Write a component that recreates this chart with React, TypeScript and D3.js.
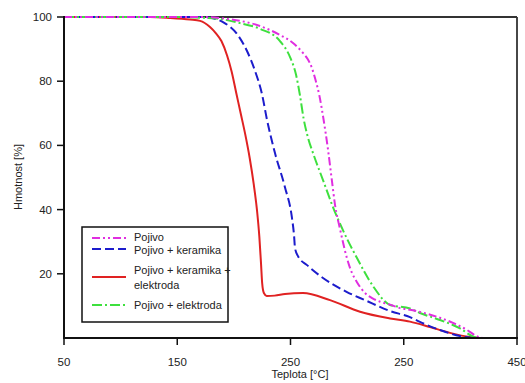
import React from "react";
import * as d3 from "d3";

type Pt = [number, number];

const pojivo: Pt[] = [
  [50, 100], [170, 100], [194, 99.4], [223, 97.2], [240.7, 94.4], [252.2, 91.9], [261, 88.8],
  [265, 87], [268.5, 84.5], [272, 80.5], [275.5, 75.5], [279, 68.5], [283, 59], [286.4, 49.5],
  [289.3, 41.5], [293.7, 34], [299.9, 24.8], [304, 20.5], [308.7, 17.4], [315, 14.3],
  [322.8, 12.3], [330, 11.2], [340.5, 10.1], [346.7, 9.3], [355.5, 8.8], [364.3, 8.1],
  [379.4, 6.6], [393.5, 4.7], [405.9, 2.5], [414.7, 0.5], [421, 0], [450, 0],
];

const keramika: Pt[] = [
  [50, 100], [170, 100], [178.9, 99.8], [190.4, 98.4], [202.8, 94.7], [211.6, 89.4],
  [218.7, 83.2], [224.8, 76], [229.3, 67.9], [236.3, 57.6], [245.1, 47], [251.3, 37.4],
  [253.1, 32.1], [254, 28], [256.6, 25.5], [264.6, 22.7], [278.7, 18.7], [299.9, 14.3],
  [315.8, 11.8], [337.9, 8.4], [355.5, 6.5], [364.3, 5], [382, 2.5], [399.7, 0.6], [417.3, 0], [450, 0],
];

const keramikaElektroda: Pt[] = [
  [50, 100], [126, 100], [143.6, 99.7], [161.3, 99.2], [170.1, 98.8], [178.9, 96.9],
  [184, 95], [189, 92.5], [194, 88], [198, 83], [202, 76.5], [206, 70], [210, 63.5],
  [214, 56], [217.5, 48], [220.5, 39.5], [222.5, 31.5], [224, 23], [225, 17], [226.5, 14],
  [229, 13.1], [236, 13.2], [245.1, 13.7], [261, 14], [284.9, 11.8], [311.4, 8.2],
  [337.9, 6.1], [355.5, 5.1], [373.2, 3.4], [390.8, 1.6], [408.5, 0.3], [417.3, 0], [450, 0],
];

const elektroda: Pt[] = [
  [50, 100], [152.4, 100], [170.1, 99.8], [187.7, 99.4], [205.4, 98.1], [223.1, 96.3],
  [240.7, 92.5], [249.6, 87.5], [254.9, 82], [258.4, 75.5], [261.5, 68.5], [265, 63],
  [270, 57.5], [278.7, 49.2], [287.5, 40.8], [296.3, 33.6], [308.7, 24.9], [322.8, 16.2],
  [337.9, 10.3], [355.5, 9.2], [364.3, 7.8], [382, 5.6], [399.7, 3], [411.1, 0.5], [417.3, 0], [450, 0],
];

const xTickValues = [50, 150, 250, 350, 450];
const xTickLabels = ["50", "150", "250", "250", "450"];
const yTickValues = [20, 40, 60, 80, 100];

const seriesNames = ["Pojivo", "Pojivo + keramika", "Pojivo + keramika + elektroda", "Pojivo + elektroda"];

const series = [
  { name: seriesNames[0], data: pojivo, color: "#e02ee0", dash: "8,3,2,3,2,3", legend: ["Pojivo"] },
  { name: seriesNames[1], data: keramika, color: "#1c1ccc", dash: "9,4", legend: ["Pojivo + keramika"] },
  { name: seriesNames[2], data: keramikaElektroda, color: "#e02222", dash: "", legend: ["Pojivo + keramika +", "elektroda"] },
  { name: seriesNames[3], data: elektroda, color: "#3ee03e", dash: "10,3,2,3", legend: ["Pojivo + elektroda"] },
];

const FONT = "'Liberation Sans', Arial, Helvetica, sans-serif";

export default function App() {
  const W = 525, H = 383;
  const left = 64, right = 517, top = 17, bottom = 338;
  const x = d3.scaleLinear().domain([50, 450]).range([left, right]);
  const y = d3.scaleLinear().domain([0, 100]).range([bottom, top]);
  const line = d3
    .line<Pt>()
    .x((d) => x(d[0]))
    .y((d) => y(d[1]))
    .curve(d3.curveMonotoneX);

  const drawOrder = [2, 1, 3, 0];

  const legendRows = [
    { s: 0, lineY: 238, textY: [241] },
    { s: 1, lineY: 249, textY: [254] },
    { s: 2, lineY: 277, textY: [274, 289] },
    { s: 3, lineY: 305, textY: [309] },
  ];

  return (
    <svg width={W} height={H} style={{ position: "absolute", left: 0, top: 0, background: "#fff" }}>
      <rect x={0} y={0} width={W} height={H} fill="#fff" />
      <line x1={left} y1={top} x2={right} y2={top} stroke="#333" strokeWidth={1.8} />
      <line x1={right} y1={top} x2={right} y2={bottom} stroke="#333" strokeWidth={1.8} />
      {drawOrder.map((i) => (
        <path
          key={series[i].name}
          d={line(series[i].data) || ""}
          fill="none"
          stroke={series[i].color}
          strokeWidth={2}
          strokeDasharray={series[i].dash || undefined}
        />
      ))}
      <line x1={left} y1={top - 1} x2={left} y2={bottom + 1} stroke="#111" strokeWidth={2} />
      <line x1={left - 1} y1={bottom} x2={right + 1} y2={bottom} stroke="#111" strokeWidth={2} />
      {yTickValues.map((v) => (
        <g key={"y" + v}>
          <line x1={left - 7} x2={left} y1={y(v)} y2={y(v)} stroke="#111" strokeWidth={1.5} />
          <text x={left - 12} y={y(v) + 4} textAnchor="end" fontFamily={FONT} fontSize={11.5} fill="#222">
            {String(v)}
          </text>
        </g>
      ))}
      {xTickValues.map((v, i) => (
        <g key={"x" + v}>
          <line x1={x(v)} x2={x(v)} y1={bottom} y2={bottom + 7} stroke="#111" strokeWidth={1.5} />
          <text x={x(v)} y={bottom + 28} textAnchor="middle" fontFamily={FONT} fontSize={11.5} fill="#222">
            {xTickLabels[i]}
          </text>
        </g>
      ))}
      <text x={300} y={378} textAnchor="middle" fontFamily={FONT} fontSize={11} fill="#222">
        Teplota [°C]
      </text>
      <text
        transform={`translate(22,177) rotate(-90)`}
        textAnchor="middle"
        fontFamily={FONT}
        fontSize={11}
        fill="#222"
      >
        Hmotnost [%]
      </text>
      <rect x={82} y={227} width={146} height={95} fill="#fff" stroke="#111" strokeWidth={1.5} />
      {legendRows.map((r) => (
        <g key={"lg" + r.s}>
          <line
            x1={92}
            x2={126}
            y1={r.lineY}
            y2={r.lineY}
            stroke={series[r.s].color}
            strokeWidth={2}
            strokeDasharray={series[r.s].dash || undefined}
          />
          {series[r.s].legend.map((t, k) => (
            <text key={k} x={134} y={r.textY[k]} fontFamily={FONT} fontSize={11} fill="#222">
              {t}
            </text>
          ))}
        </g>
      ))}
    </svg>
  );
}
